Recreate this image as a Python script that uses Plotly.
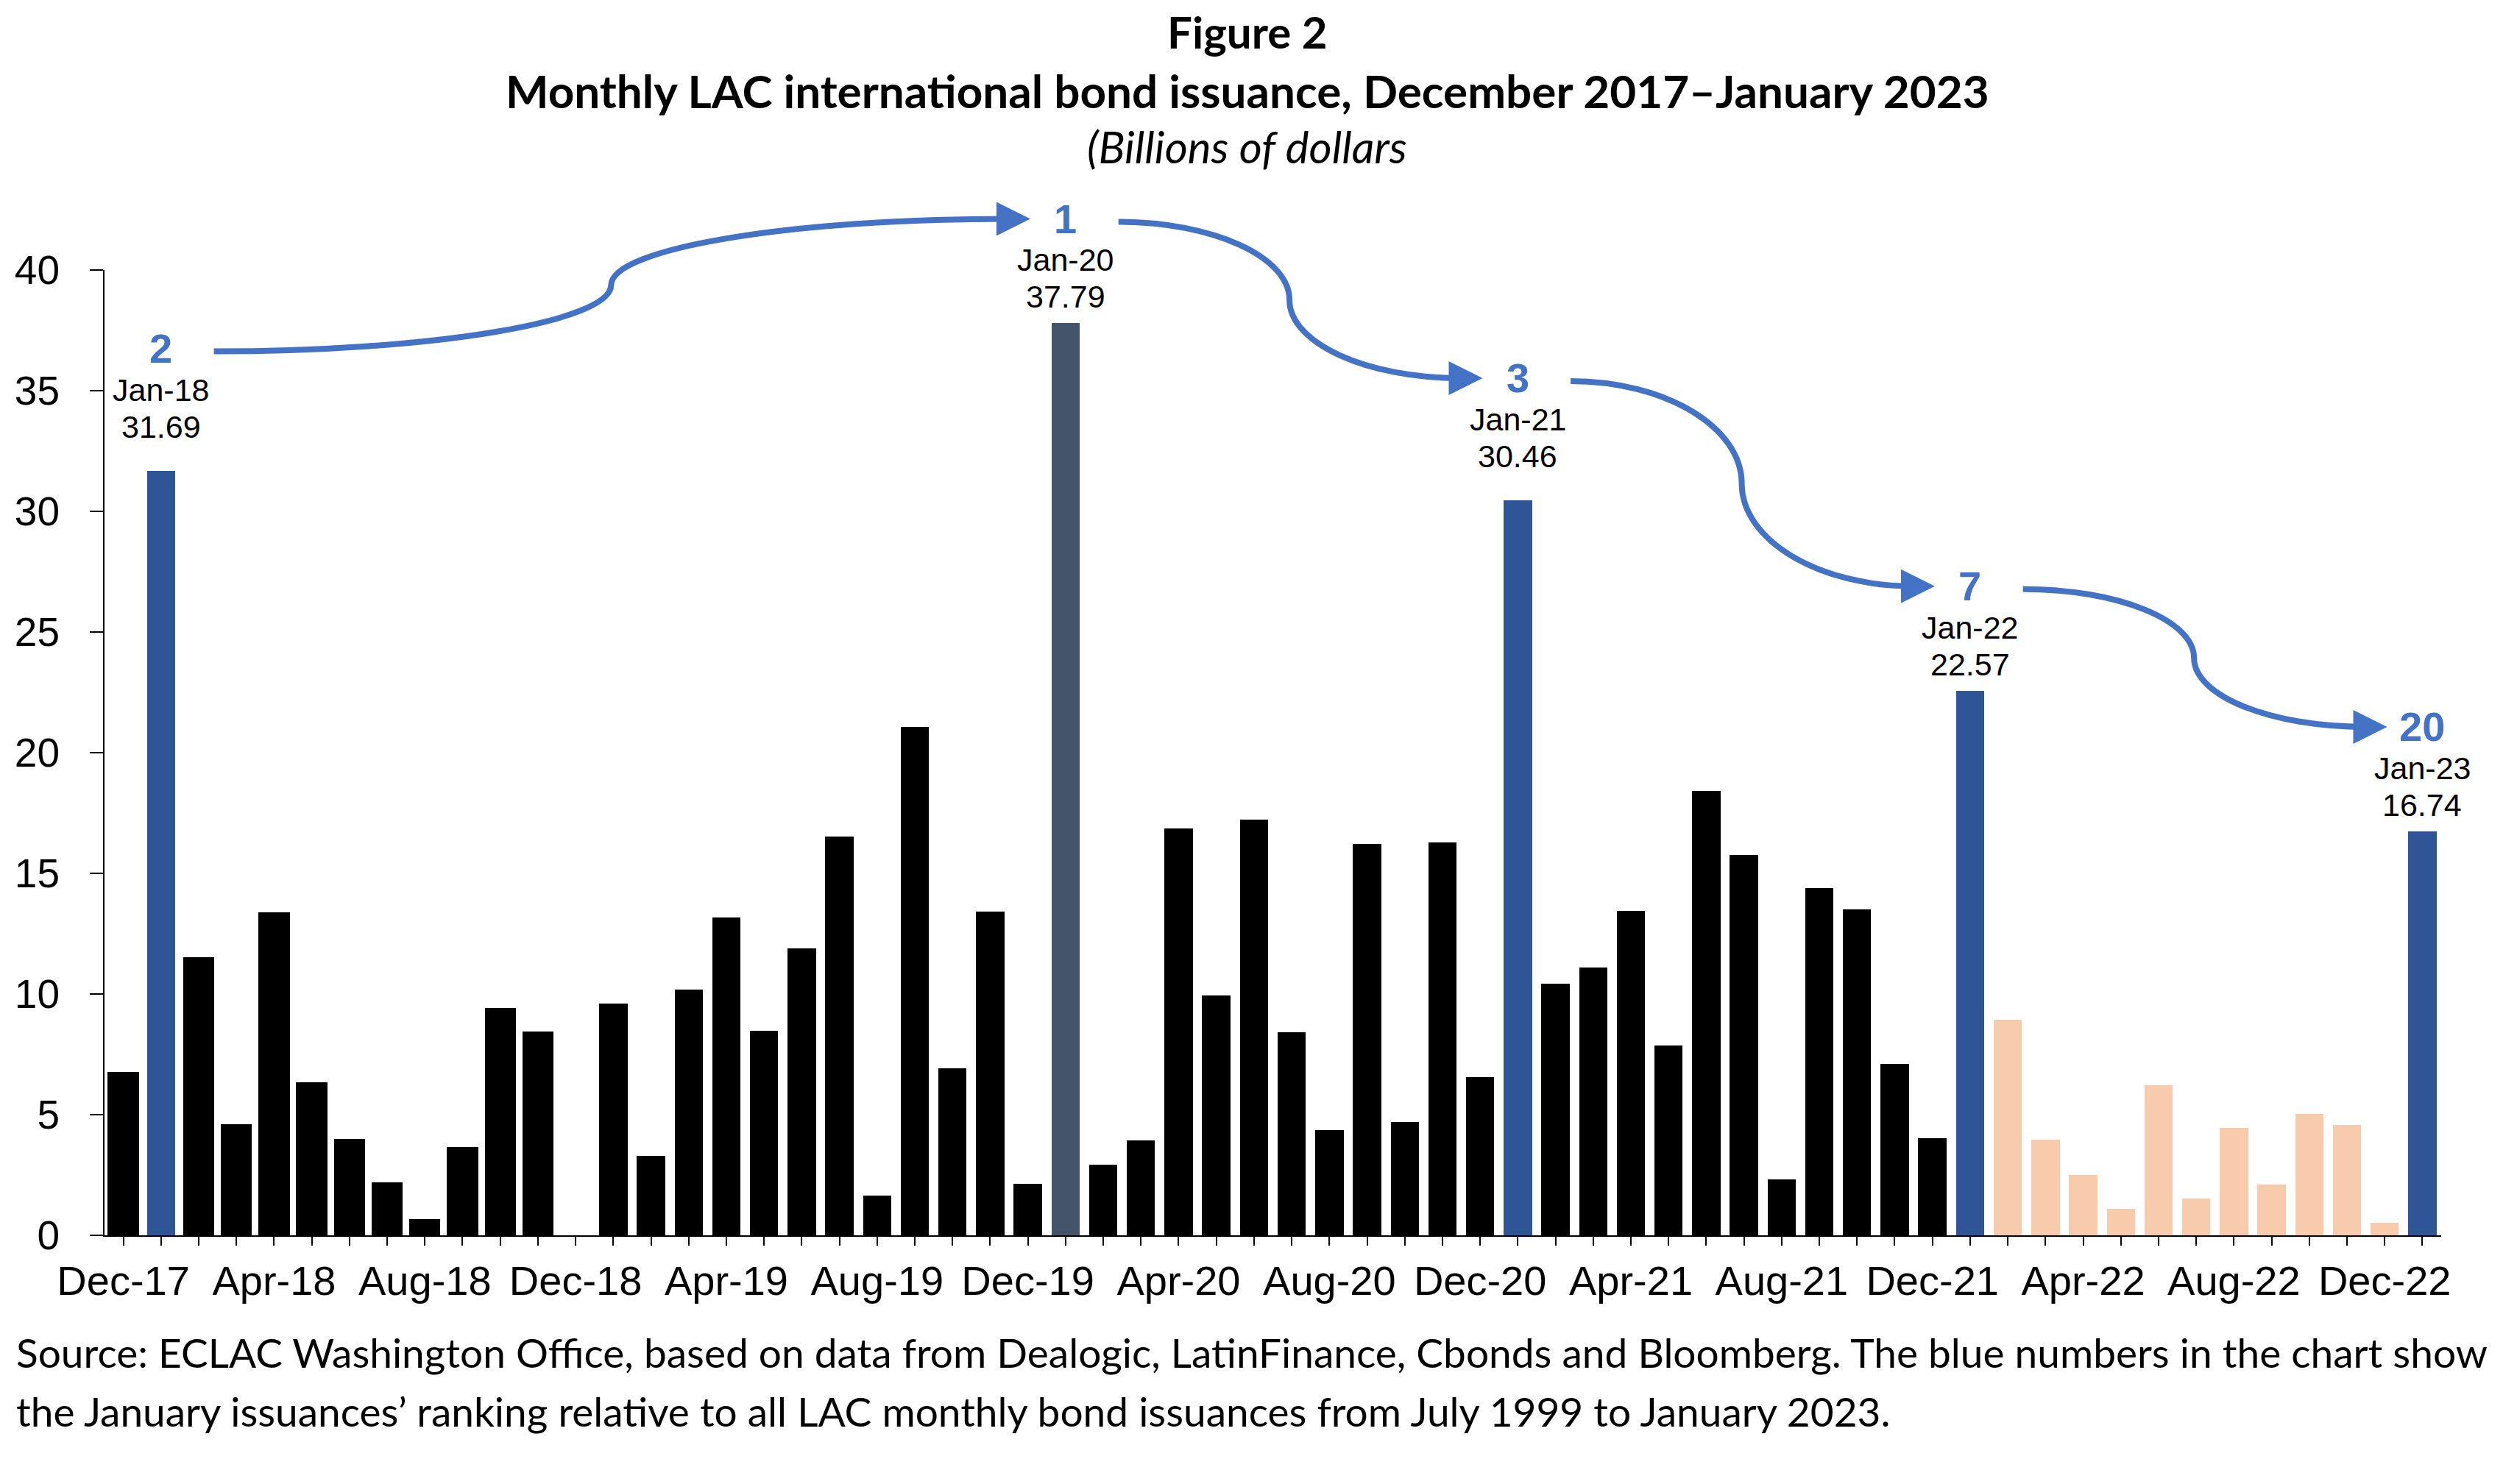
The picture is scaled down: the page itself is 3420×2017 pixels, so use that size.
import plotly.graph_objects as go

# monthly issuance, Dec-17 .. Jan-23 (billions of dollars)
months = ["Dec-17",
          "Jan-18", "Feb-18", "Mar-18", "Apr-18", "May-18", "Jun-18", "Jul-18", "Aug-18", "Sep-18", "Oct-18", "Nov-18", "Dec-18",
          "Jan-19", "Feb-19", "Mar-19", "Apr-19", "May-19", "Jun-19", "Jul-19", "Aug-19", "Sep-19", "Oct-19", "Nov-19", "Dec-19",
          "Jan-20", "Feb-20", "Mar-20", "Apr-20", "May-20", "Jun-20", "Jul-20", "Aug-20", "Sep-20", "Oct-20", "Nov-20", "Dec-20",
          "Jan-21", "Feb-21", "Mar-21", "Apr-21", "May-21", "Jun-21", "Jul-21", "Aug-21", "Sep-21", "Oct-21", "Nov-21", "Dec-21",
          "Jan-22", "Feb-22", "Mar-22", "Apr-22", "May-22", "Jun-22", "Jul-22", "Aug-22", "Sep-22", "Oct-22", "Nov-22", "Dec-22",
          "Jan-23"]
values = [6.70,
          31.69, 11.45, 4.55, 13.33, 6.28, 3.93, 2.13, 0.62, 3.60, 9.37, 8.39, 0.0,
          9.59, 3.28, 10.18, 13.18, 8.47, 11.90, 16.52, 1.66, 21.06, 6.93, 13.40, 2.14,
          37.79, 2.94, 3.92, 16.85, 9.95, 17.22, 8.42, 4.37, 16.22, 4.69, 16.27, 6.57,
          30.46, 10.44, 11.10, 13.44, 7.86, 18.40, 15.77, 2.32, 14.39, 13.50, 7.10, 4.01,
          22.57, 8.92, 3.95, 2.50, 1.10, 6.22, 1.52, 4.44, 2.10, 5.03, 4.58, 0.51,
          16.74]

# ranking of each January among all LAC monthly issuances, Jul-1999 to Jan-2023
ranks = {"Jan-18": 2, "Jan-20": 1, "Jan-21": 3, "Jan-22": 7, "Jan-23": 20}

BLACK = "#000000"
BLUE = "#2F5597"
SLATE = "#44546A"
PEACH = "#F8CBAD"
ARROW = "#4472C4"
AXIS_FONT = "Liberation Sans, Arial, sans-serif"
TEXT_FONT = "Lato, Calibri, sans-serif"

W, H = 3420, 2017
ML, MR, MT, MB = 126, 111, 359, 346
PLOT_W, PLOT_H = W - ML - MR, H - MT - MB
YMAX = 40

n = len(months)
top = max(values)
colors, lines = [], []
for m, v in zip(months, values):
    if m in ranks:
        colors.append(SLATE if v == top else BLUE)
        lines.append(0)
    elif m.endswith("-22"):
        colors.append(PEACH)
        lines.append(0)
    else:
        colors.append(BLACK)
        lines.append(4 if (m.endswith("-18") or m == "Dec-17") and v > 0 else 0)

fig = go.Figure(go.Bar(
    x=months, y=values, width=0.75,
    marker=dict(color=colors, line=dict(color=BLACK, width=lines)),
    hovertemplate="%{x}: %{y:.2f}<extra></extra>",
))

ticktext = [m if i % 4 == 0 else "" for i, m in enumerate(months)]

fig.update_layout(
    width=W, height=H,
    margin=dict(l=ML, r=MR, t=MT, b=MB),
    paper_bgcolor="white", plot_bgcolor="white",
    showlegend=False, bargap=0,
    font=dict(family=AXIS_FONT, color="black"),
    xaxis=dict(type="category", tickmode="array", tickvals=months, ticktext=ticktext,
               range=[-0.5, n - 0.5], showline=True, linecolor="black", linewidth=2,
               ticks="outside", ticklen=12, tickwidth=2, tickcolor="black",
               tickfont=dict(size=56, family=AXIS_FONT), ticklabelstandoff=0,
               showgrid=False, zeroline=False),
    yaxis=dict(range=[0, YMAX], dtick=5, showline=True, linecolor="black", linewidth=2,
               ticks="outside", ticklen=18, tickwidth=2, tickcolor="black",
               tickfont=dict(size=55, family=AXIS_FONT), ticklabelstandoff=30,
               showgrid=False, zeroline=False),
)


def paper_pt(i, v, dx=0, dy=0):
    # category index / value plus a pixel offset -> paper coordinates
    return (i + 0.5) / n + dx / PLOT_W, v / YMAX + dy / PLOT_H


# label offsets above the bar top, in pixels
VALUE_UP, MONTH_UP, RANK_UP = 36, 86, 142
LIFT = {"Jan-18": 24, "Jan-21": 24}

jan = []
for m, r in ranks.items():
    i = months.index(m)
    v = values[i]
    lift = LIFT.get(m, 0)
    fig.add_annotation(x=m, y=v, text=f"{v:.2f}", showarrow=False,
                       yanchor="middle", yshift=VALUE_UP + lift,
                       font=dict(size=43, family=AXIS_FONT, color="black"))
    fig.add_annotation(x=m, y=v, text=m, showarrow=False,
                       yanchor="middle", yshift=MONTH_UP + lift,
                       font=dict(size=43, family=AXIS_FONT, color="black"))
    fig.add_annotation(x=m, y=v, text=f"<b>{r}</b>", showarrow=False,
                       yanchor="middle", yshift=RANK_UP + lift,
                       font=dict(size=56, family=AXIS_FONT, color=ARROW))
    jan.append((i, v, RANK_UP + lift))

# curved connectors between successive January rank numbers
k = 0.552
for (i0, v0, up0), (i1, v1, up1) in zip(jan[:-1], jan[1:]):
    x0, y0 = paper_pt(i0, v0, 72, up0 - 4)
    tx, ty = paper_pt(i1, v1, -48, up1)
    x1, y1 = tx - 30 / PLOT_W, ty
    xm, ym = (x0 + x1) / 2, (y0 + y1) / 2
    path = (f"M {x0},{y0} "
            f"C {x0 + k * (xm - x0)},{y0} {xm},{ym - k * (ym - y0)} {xm},{ym} "
            f"C {xm},{ym + k * (y1 - ym)} {x1 - k * (x1 - xm)},{y1} {x1},{y1}")
    fig.add_shape(type="path", path=path, xref="paper", yref="paper",
                  line=dict(color=ARROW, width=8))
    fig.add_annotation(x=tx, y=ty, xref="paper", yref="paper", text="",
                       showarrow=True, ax=-34, ay=0, arrowhead=2, arrowsize=1.15,
                       arrowwidth=8, arrowcolor=ARROW)

# titles
fig.add_annotation(x=0.489, y=1.247, xref="paper", yref="paper", showarrow=False,
                   xanchor="center", yanchor="middle",
                   text="<b>Figure 2</b>", font=dict(size=60, family=TEXT_FONT))
fig.add_annotation(x=0.489, y=1.186, xref="paper", yref="paper", showarrow=False,
                   xanchor="center", yanchor="middle",
                   text="<b>Monthly LAC international bond issuance, December 2017–January 2023</b>",
                   font=dict(size=62, family=TEXT_FONT))
fig.add_annotation(x=0.489, y=1.128, xref="paper", yref="paper", showarrow=False,
                   xanchor="center", yanchor="middle",
                   text="<i>(Billions of dollars</i>", font=dict(size=60, family=TEXT_FONT))

# source note
fig.add_annotation(x=-0.0385, y=-0.121, xref="paper", yref="paper", showarrow=False,
                   xanchor="left", yanchor="middle", font=dict(size=55, family=TEXT_FONT),
                   text="Source: ECLAC Washington Office, based on data from Dealogic, LatinFinance, "
                        "Cbonds and Bloomberg. The blue numbers in the chart show")
fig.add_annotation(x=-0.0385, y=-0.182, xref="paper", yref="paper", showarrow=False,
                   xanchor="left", yanchor="middle", font=dict(size=55, family=TEXT_FONT),
                   text="the January issuances’ ranking relative to all LAC monthly bond issuances "
                        "from July 1999 to January 2023.")

fig.write_html("out.html")
